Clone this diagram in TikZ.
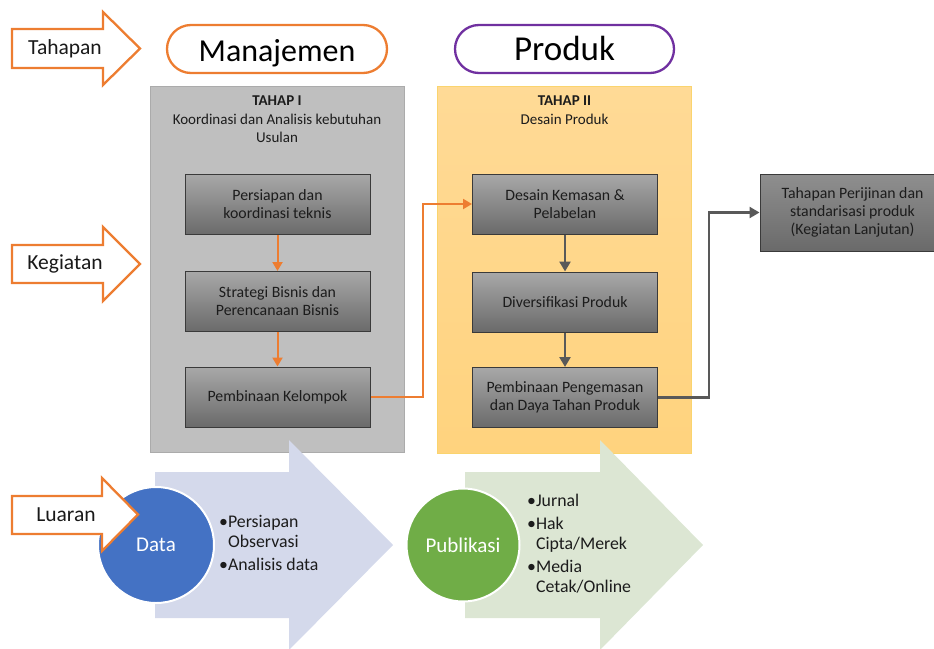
\documentclass[tikz,border=0pt]{standalone}
\usepackage{fontspec}
\setmainfont{Carlito}
\usetikzlibrary{arrows.meta,shadings}
\definecolor{oran}{HTML}{ED7D31}
\definecolor{purp}{HTML}{7030A0}
\definecolor{panelgray}{HTML}{BFBFBF}
\definecolor{panelgrayline}{HTML}{ABABAB}
\definecolor{panelortop}{HTML}{FFDA96}
\definecolor{panelorbot}{HTML}{FFD37E}
\definecolor{panelorline}{HTML}{FAD46E}
\definecolor{boxtop}{HTML}{A8A8A8}
\definecolor{boxbot}{HTML}{6A6A6A}
\definecolor{boxline}{HTML}{3A3A3A}
\definecolor{conn}{HTML}{595959}
\definecolor{lblue}{HTML}{D4D9EB}
\definecolor{lgreen}{HTML}{DCE6D3}
\definecolor{cblue}{HTML}{4472C4}
\definecolor{cgreen}{HTML}{70AD47}
\definecolor{boxtext}{HTML}{1C1C1C}
\begin{document}
\begin{tikzpicture}[x=1pt,y=-1pt,
  tagarrow/.style={draw=oran, line width=2.3pt, fill=white, line join=miter},
  tagtext/.style={font=\fontsize{21.5}{25}\selectfont, text=black!90, inner sep=0pt},
  pill/.style={rectangle, rounded corners=24pt, line width=2.3pt, minimum width=220pt,
     minimum height=48pt, fill=white, inner sep=0pt, text depth=0pt},
  panel/.style={minimum width=254pt, minimum height=366pt, line width=0.8pt, inner sep=0pt},
  paneltext/.style={align=center, font=\fontsize{15}{18.5}\selectfont, text=boxtext, inner sep=0pt},
  gbox/.style={draw=boxline, line width=1pt, top color=boxtop, bottom color=boxbot,
     minimum width=185pt, minimum height=60pt, align=center,
     font=\fontsize{15.8}{18}\selectfont, text=boxtext, inner sep=0pt},
  oarr/.style={draw=oran, line width=2pt, -{Triangle[width=10pt,length=9pt]}},
  darr/.style={draw=conn, line width=2.5pt, -{Triangle[width=11pt,length=10pt]}},
  disc/.style={circle, draw=white, line width=2pt, minimum size=116pt, inner sep=0pt,
     text=white, font=\fontsize{21}{24}\selectfont},
  listtext/.style={font=\fontsize{17.8}{20}\selectfont, text=boxtext, inner sep=0pt}
]
\useasboundingbox (0,0) rectangle (934,648);
\clip (0,0) rectangle (934,648);

% Tag arrows
\draw[tagarrow] (12,29) -- (103,29) -- (103,12) -- (140,48.5) -- (103,85) -- (103,68) -- (12,68) -- cycle;
\node[tagtext] (tTah) at (65,48.5) {Tahapan};
\draw[tagarrow] (12,245) -- (103,245) -- (103,227) -- (140,264) -- (103,301) -- (103,283) -- (12,283) -- cycle;
\node[tagtext] (tKeg) at (65,264) {Kegiatan};

% Pills
\node[pill, draw=oran, text height=25pt, font=\fontsize{32}{36}\selectfont] (man) at (277,49) {Manajemen};
\node[pill, draw=purp, minimum width=219pt, text height=23.5pt, font=\fontsize{35}{40}\selectfont] (prod) at (564.5,49) {Produk};

% Panels
\node[panel, draw=panelgrayline, fill=panelgray] (p1) at (277,269) {};
\node[panel, draw=panelorline, top color=panelortop, bottom color=panelorbot, minimum height=367pt] (p2) at (564.5,269.5) {};
\node[paneltext, anchor=north] (t1) at (277,96) {\textbf{TAHAP I}\\Koordinasi dan Analisis kebutuhan\\Usulan};
\node[paneltext, anchor=north] (t2) at (564.5,96) {\textbf{TAHAP II}\\Desain Produk};

% Boxes
\node[gbox] (b1) at (277.5,204.5) {Persiapan dan\\koordinasi teknis};
\node[gbox] (b2) at (277.5,301.5) {Strategi Bisnis dan\\Perencanaan Bisnis};
\node[gbox] (b3) at (277.5,397) {Pembinaan Kelompok};
\node[gbox] (c1) at (565,204) {Desain Kemasan \&\\Pelabelan};
\node[gbox] (c2) at (565,302) {Diversifikasi Produk};
\node[gbox] (c3) at (565,397.5) {Pembinaan Pengemasan\\dan Daya Tahan Produk};
\node[gbox, minimum height=77pt, top color=boxtop!85!black, bottom color=boxbot] (d1) at (852.5,212.5) {Tahapan Perijinan dan\\standarisasi produk\\(Kegiatan Lanjutan)};

% Connectors
\draw[oarr] (b1) -- (b2);
\draw[oarr] (b2) -- (b3);
\draw[oarr] (b3.east) -- ++(52,0) |- (c1.west);
\draw[darr] (c1) -- (c2);
\draw[darr] (c2) -- (c3);
\draw[darr] (c3.east) -- ++(51,0) |- (d1.west);

% Output arrows
\fill[lblue] (155,472) -- (289,472) -- (289,440) -- (393,545) -- (289,650) -- (289,618) -- (155,618) -- cycle;
\fill[lgreen] (465,472) -- (600,472) -- (600,440) -- (703,545) -- (600,650) -- (600,618) -- (465,618) -- cycle;

\node[disc, fill=cblue] (data) at (156,545) {Data};
\node[disc, fill=cgreen, minimum size=113pt] (pub) at (463,545) {Publikasi};

\node[listtext, anchor=west] (l1) at (219,545) {\begin{tabular}{@{}l@{}l@{}}•&Persiapan\\&Observasi\\[3pt]•&Analisis data\end{tabular}};
\node[listtext, anchor=west] (l2) at (527,545) {\begin{tabular}{@{}l@{}l@{}}•&Jurnal\\[3pt]•&Hak\\&Cipta/Merek\\[3pt]•&Media\\&Cetak/Online\end{tabular}};

\draw[tagarrow] (12,496) -- (102,496) -- (102,478) -- (138,514.5) -- (102,551) -- (102,534) -- (12,534) -- cycle;
\node[tagtext] (tLua) at (66,515) {Luaran};
\end{tikzpicture}
\end{document}
